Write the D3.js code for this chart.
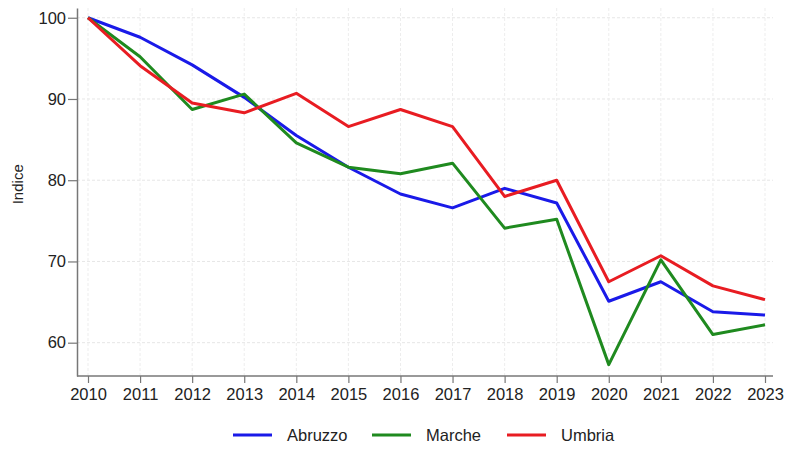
<!DOCTYPE html>
<html>
<head>
<meta charset="utf-8">
<script src="https://cdn.jsdelivr.net/npm/d3@7"></script>
<style>
  body { margin: 0; background: #fff; }
  text { font-family: "Liberation Sans", Arial, sans-serif; fill: #222; }
</style>
</head>
<body>
<div id="chart"></div>
<script>
// Data
var years = [2010, 2011, 2012, 2013, 2014, 2015, 2016, 2017, 2018, 2019, 2020, 2021, 2022, 2023];
var abruzzo = [100, 97.6, 94.2, 90.2, 85.5, 81.6, 78.3, 76.6, 79.0, 77.2, 65.1, 67.5, 63.8, 63.4];
var marche  = [100, 95.2, 88.7, 90.6, 84.6, 81.6, 80.8, 82.1, 74.1, 75.2, 57.3, 70.2, 61.0, 62.2];
var umbria  = [100, 94.1, 89.5, 88.3, 90.7, 86.6, 88.7, 86.6, 78.0, 80.0, 67.5, 70.7, 67.0, 65.3];
var seriesNames = ["Abruzzo", "Marche", "Umbria"];
var yTicks = [60, 70, 80, 90, 100];

var series = [abruzzo, marche, umbria].map(function(v, i) {
    return { name: seriesNames[i], values: v.map(function(d, j) { return { year: years[j], value: d }; }) };
});

var width = 788, height = 449;
var margin = { top: 8, right: 20, bottom: 73, left: 77 };

var color = d3.scaleOrdinal()
    .domain(seriesNames)
    .range(["#1a1ae8", "#1f8a1f", "#e81c22"]);

var x = d3.scaleLinear()
    .domain([2010, 2023])
    .range([88, 765]);

var y = d3.scaleLinear()
    .domain([55.9, 101.2])
    .range([height - margin.bottom, margin.top]);

var svg = d3.select("#chart").append("svg")
    .attr("width", width)
    .attr("height", height);

// Grid
svg.append("g")
    .selectAll("line")
    .data(yTicks)
  .enter().append("line")
    .attr("x1", margin.left)
    .attr("x2", width - margin.right + 5)
    .attr("y1", function(d) { return y(d); })
    .attr("y2", function(d) { return y(d); })
    .style("stroke", "#e6e6e6")
    .style("stroke-dasharray", "3,2");

svg.append("g")
    .selectAll("line")
    .data(years)
  .enter().append("line")
    .attr("x1", function(d) { return x(d); })
    .attr("x2", function(d) { return x(d); })
    .attr("y1", margin.top)
    .attr("y2", height - margin.bottom)
    .style("stroke", "#ededed")
    .style("stroke-dasharray", "3,2");

// Axes
var xAxis = svg.append("g")
    .attr("transform", "translate(0," + (height - margin.bottom) + ")")
    .call(d3.axisBottom(x).tickValues(years).tickFormat(d3.format("d")).tickSize(7).tickSizeOuter(0));

var yAxis = svg.append("g")
    .attr("transform", "translate(" + margin.left + ",0)")
    .call(d3.axisLeft(y).tickValues(yTicks).tickSize(9).tickSizeOuter(0));

[xAxis, yAxis].forEach(function(a) {
    a.select(".domain").style("stroke", "#777").style("stroke-width", 1.5);
    a.selectAll(".tick line").style("stroke", "#777").style("stroke-width", 1.2);
    a.selectAll(".tick text")
        .style("font-family", "'Liberation Sans', Arial, sans-serif")
        .style("font-size", "16.5px")
        .style("fill", "#222");
});
xAxis.select(".domain").attr("d", "M" + margin.left + ",0H" + (width - margin.right + 5));
xAxis.selectAll(".tick text").attr("y", 12).attr("dy", "0.71em");
yAxis.selectAll(".tick text").attr("x", -11);

svg.append("text")
    .attr("transform", "translate(23," + y(79.5) + ") rotate(-90)")
    .attr("text-anchor", "middle")
    .style("font-size", "15px")
    .text("Indice");

// Lines
var line = d3.line()
    .x(function(d) { return x(d.year); })
    .y(function(d) { return y(d.value); });

svg.append("g")
    .selectAll("path")
    .data(series)
  .enter().append("path")
    .attr("d", function(d) { return line(d.values); })
    .style("fill", "none")
    .style("stroke", function(d) { return color(d.name); })
    .style("stroke-width", 3)
    .style("stroke-linejoin", "round");

// Legend
var legendX = [233, 372, 507];
var legend = svg.append("g")
    .selectAll("g")
    .data(seriesNames)
  .enter().append("g")
    .attr("transform", function(d, i) { return "translate(" + legendX[i] + ",435)"; });
legend.append("line")
    .attr("x1", 0)
    .attr("x2", 39)
    .style("stroke", function(d) { return color(d); })
    .style("stroke-width", 3);
legend.append("text")
    .attr("x", 54)
    .attr("dy", ".35em")
    .style("font-size", "16.5px")
    .text(function(d) { return d; });
</script>
</body>
</html>
